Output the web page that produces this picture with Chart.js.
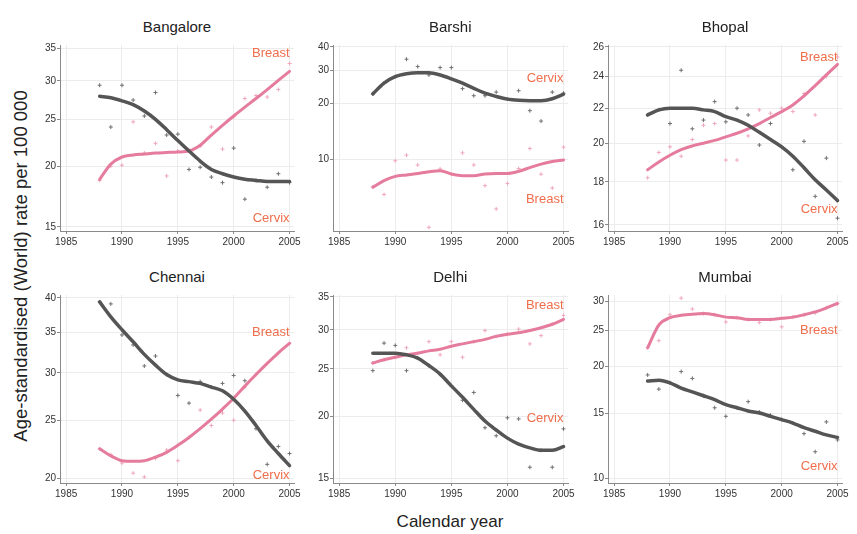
<!DOCTYPE html>
<html><head><meta charset="utf-8">
<script src="https://cdn.jsdelivr.net/npm/chart.js@4.4.1/dist/chart.umd.min.js"></script>
<style>
html,body{margin:0;padding:0;background:#fff;}
#wrap{position:relative;width:857px;height:534px;overflow:hidden;font-family:'Liberation Sans',Arial,sans-serif;}
#wrap canvas{position:absolute;}
.ttl{position:absolute;font-family:'Liberation Sans Narrow','Liberation Sans',Arial,sans-serif;font-size:15px;color:#222;transform:translate(-50%,-50%);white-space:nowrap;}
.axt{position:absolute;font-size:17px;color:#222;white-space:nowrap;transform:translate(-50%,-50%);}
</style></head><body><div id="wrap">
<div class="axt" style="left:450px;top:522px;">Calendar year</div>
<div class="axt" style="left:21px;top:266px;font-size:18.5px;transform:translate(-50%,-50%) rotate(-90deg);">Age-standardised (World) rate per 100 000</div>
</div>
<script>
// ---- data ----
const years = [1988,1989,1990,1991,1992,1993,1994,1995,1996,1997,1998,1999,2000,2001,2002,2003,2004,2005];
const xTicks = [1985,1990,1995,2000,2005];

const bangaloreCervix    = [29.4,24.1,29.4,27.4,25.4,28.4,23.2,23.3,19.7,19.9,19.0,18.5,21.8,17.1,18.7,18.1,19.3,18.5];
const bangaloreBreast    = [18.7,20.0,20.1,24.7,21.3,22.3,19.1,21.5,21.6,22.0,24.1,21.7,25.3,27.6,28.0,27.8,28.8,32.6];
const bangaloreCervixFit = [27.9,27.7,27.3,26.8,26.0,25.0,23.8,22.6,21.5,20.5,19.7,19.3,19.0,18.8,18.7,18.6,18.6,18.6];
const bangaloreBreastFit = [18.8,20.2,20.9,21.1,21.2,21.3,21.35,21.4,21.5,22.1,23.2,24.3,25.4,26.5,27.6,28.8,30.1,31.4];
const bangaloreTicks     = [15,20,25,30,35];
const bangaloreLabelAt   = [34.2,15.6]; // Breast, Cervix

const barshiCervix    = [22.4,25.6,27.7,34.4,31.4,28.3,31.0,31.0,23.9,21.9,21.9,22.9,21.0,23.3,18.2,16.0,22.9,22.6];
const barshiBreast    = [7.1,6.46,9.8,10.5,9.3,4.3,8.85,8.3,10.8,9.3,7.2,5.4,7.4,8.9,11.4,8.3,7.0,11.6];
const barshiCervixFit = [22.4,25.6,27.7,28.7,29.1,29.1,28.3,27.0,25.6,24.0,22.6,21.7,21.0,20.7,20.6,20.6,21.1,22.3];
const barshiBreastFit = [7.06,7.67,8.08,8.22,8.38,8.56,8.67,8.32,8.15,8.15,8.32,8.38,8.38,8.6,9.0,9.4,9.7,9.9];
const barshiTicks     = [10,20,30,40];
const barshiLabelAt   = [6.07,27.1];

const bhopalCervix    = [21.6,21.9,21.1,24.4,20.8,21.3,22.4,21.2,22.0,21.6,19.9,21.1,19.8,18.6,20.1,17.3,19.2,16.3];
const bhopalBreast    = [18.2,19.5,19.8,19.3,20.2,21.0,21.1,19.1,19.1,20.4,21.9,21.7,22.0,21.8,22.9,21.6,24.0,25.3];
const bhopalCervixFit = [21.6,21.9,22.0,22.0,22.0,21.9,21.8,21.5,21.3,21.0,20.6,20.2,19.8,19.3,18.7,18.1,17.6,17.1];
const bhopalBreastFit = [18.6,19.0,19.35,19.65,19.85,20.0,20.15,20.35,20.55,20.8,21.1,21.45,21.8,22.2,22.75,23.4,24.1,24.8];
const bhopalTicks     = [16,18,20,22,24,26];
const bhopalLabelAt   = [25.3,16.7];

const chennaiCervix    = [39.4,39.1,34.7,33.4,30.8,32.0,29.8,27.5,26.7,29.0,28.4,28.8,29.7,29.1,24.2,21.1,22.6,22.0];
const chennaiBreast    = [22.4,21.9,21.2,20.4,20.1,21.6,22.3,21.4,23.4,26.0,24.5,25.7,25.0,28.4,29.8,31.1,32.4,33.6];
const chennaiCervixFit = [39.4,37.2,35.4,33.8,32.2,30.9,29.8,29.2,29.0,28.8,28.4,28.0,27.1,25.9,24.5,23.1,22.0,21.0];
const chennaiBreastFit = [22.4,21.8,21.4,21.35,21.4,21.7,22.1,22.7,23.4,24.2,25.1,26.1,27.2,28.5,29.8,31.1,32.4,33.6];
const chennaiTicks     = [20,25,30,35,40];
const chennaiLabelAt   = [35.1,20.2];

const delhiCervix    = [24.8,28.2,27.9,24.8,26.3,25.4,24.4,23.1,21.6,22.4,19.0,18.3,19.9,19.8,15.8,17.1,15.8,18.9];
const delhiBreast    = [25.7,26.1,26.4,27.6,26.9,28.4,26.7,28.4,26.4,28.4,29.9,29.1,29.4,30.1,28.1,29.2,30.8,32.1];
const delhiCervixFit = [26.9,26.9,26.9,26.7,26.3,25.4,24.4,23.1,21.9,20.7,19.6,18.8,18.1,17.6,17.3,17.1,17.1,17.4];
const delhiBreastFit = [25.7,26.1,26.4,26.7,26.9,27.2,27.4,27.8,28.1,28.4,28.7,29.1,29.4,29.6,29.9,30.3,30.8,31.5];
const delhiTicks     = [15,20,25,30,35];
const delhiLabelAt   = [33.6,19.8];

const mumbaiCervix    = [19.0,17.4,18.1,19.4,18.6,16.7,15.5,14.7,15.5,16.1,15.1,14.8,14.4,14.1,13.2,11.8,14.2,12.7];
const mumbaiBreast    = [22.5,23.5,27.6,30.6,28.6,27.8,27.6,26.4,27.1,26.8,26.3,26.8,25.6,27.2,27.6,27.9,28.8,29.6];
const mumbaiCervixFit = [18.3,18.4,18.1,17.5,17.1,16.7,16.3,15.8,15.5,15.2,15.0,14.7,14.4,14.1,13.7,13.4,13.1,12.9];
const mumbaiBreastFit = [22.5,25.9,27.1,27.5,27.7,27.8,27.6,27.2,27.1,26.8,26.8,26.8,27.0,27.2,27.6,28.1,28.8,29.6];
const mumbaiTicks     = [10,15,20,25,30];
const mumbaiLabelAt   = [25.1,10.8];

// ---- layout / styles ----
const C_CERVIX = '#555555', C_CERVIX_PT = '#707070';
const C_BREAST = '#e57c9d', C_BREAST_PT = '#efa8bd';
const C_LABEL = '#ef6e4c';
const TICK_FONT = {family:"'Liberation Sans Narrow','Liberation Sans',Arial,sans-serif", size:10};

const panels = [
  {title:'Bangalore', c:bangaloreCervix, b:bangaloreBreast, cf:bangaloreCervixFit, bf:bangaloreBreastFit, ticks:bangaloreTicks, lab:bangaloreLabelAt, L:60,  T:43,  R:294,   B:231, ymin:14.7, ymax:35.6},
  {title:'Barshi',    c:barshiCervix,    b:barshiBreast,    cf:barshiCervixFit,    bf:barshiBreastFit,    ticks:barshiTicks,    lab:barshiLabelAt,    L:333, T:43,  R:567.5, B:231, ymin:4.11, ymax:41.0},
  {title:'Bhopal',    c:bhopalCervix,    b:bhopalBreast,    cf:bhopalCervixFit,    bf:bhopalBreastFit,    ticks:bhopalTicks,    lab:bhopalLabelAt,    L:608, T:43,  R:842,   B:231, ymin:15.74, ymax:26.14},
  {title:'Chennai',   c:chennaiCervix,   b:chennaiBreast,   cf:chennaiCervixFit,   bf:chennaiBreastFit,   ticks:chennaiTicks,   lab:chennaiLabelAt,   L:60,  T:293, R:294,   B:483, ymin:19.64, ymax:40.46},
  {title:'Delhi',     c:delhiCervix,     b:delhiBreast,     cf:delhiCervixFit,     bf:delhiBreastFit,     ticks:delhiTicks,     lab:delhiLabelAt,     L:333, T:293, R:567.5, B:483, ymin:14.68, ymax:35.3},
  {title:'Mumbai',    c:mumbaiCervix,    b:mumbaiBreast,    cf:mumbaiCervixFit,    bf:mumbaiBreastFit,    ticks:mumbaiTicks,    lab:mumbaiLabelAt,    L:608, T:293, R:842,   B:483, ymin:9.72, ymax:31.2}
];

const YW = 30, XH = 20, PT = 5, PR = 10;

const labelPlugin = {
  id: 'siteLabels',
  afterDatasetsDraw(chart, args, opts) {
    const {ctx, scales} = chart;
    ctx.save();
    ctx.font = '13px "Liberation Sans", Arial, sans-serif';
    ctx.fillStyle = C_LABEL;
    ctx.textAlign = 'right';
    ctx.textBaseline = 'middle';
    ctx.fillText('Breast', scales.x.getPixelForValue(2005), scales.y.getPixelForValue(opts.at[0]));
    ctx.fillText('Cervix', scales.x.getPixelForValue(2005), scales.y.getPixelForValue(opts.at[1]));
    ctx.restore();
  }
};

function toXY(arr) { return arr.map((v, i) => ({x: years[i], y: v})).filter(p => p.y != null); }

const wrap = document.getElementById('wrap');
panels.forEach(p => {
  const cv = document.createElement('canvas');
  const w = Math.round(p.R - p.L + YW + PR), h = Math.round(p.B - p.T + PT + XH);
  cv.width = w; cv.height = h;
  cv.style.left = (p.L - YW) + 'px'; cv.style.top = (p.T - PT) + 'px';
  cv.style.width = w + 'px'; cv.style.height = h + 'px';
  wrap.appendChild(cv);

  const t = document.createElement('div');
  t.className = 'ttl'; t.textContent = p.title;
  t.style.left = ((p.L + p.R) / 2) + 'px'; t.style.top = (p.T - 17) + 'px';
  wrap.appendChild(t);

  const gridCfg = {color:'#ececec', lineWidth:1, tickColor:'#8a8a8a', tickLength:3, drawTicks:true};
  new Chart(cv, {
    type: 'line',
    data: {datasets: [
      {label:'Cervix fit', data: toXY(p.cf), borderColor:C_CERVIX, borderWidth:3.5, pointRadius:0, cubicInterpolationMode:'monotone', borderCapStyle:'round', order:0},
      {label:'Breast fit', data: toXY(p.bf), borderColor:C_BREAST, borderWidth:3, pointRadius:0, cubicInterpolationMode:'monotone', borderCapStyle:'round', order:1},
      {label:'Cervix', data: toXY(p.c), showLine:false, pointStyle:'cross', pointRadius:2, borderColor:C_CERVIX_PT, pointBorderWidth:1, order:2},
      {label:'Breast', data: toXY(p.b), showLine:false, pointStyle:'cross', pointRadius:2, borderColor:C_BREAST_PT, pointBorderWidth:1, order:3}
    ]},
    options: {
      responsive:false, animation:false, devicePixelRatio:1,
      layout: {padding:{top:PT, right:PR, left:0, bottom:0}, autoPadding:false},
      plugins: {legend:{display:false}, tooltip:{enabled:false}, siteLabels:{at:p.lab}},
      scales: {
        x: {type:'linear', min:1984.45, max:2005.4,
            afterBuildTicks: s => { s.ticks = xTicks.map(v => ({value:v})); },
            afterFit: s => { s.height = XH; },
            ticks: {autoSkip:false, maxRotation:0, font:TICK_FONT, color:'#333', padding:2, callback: v => String(v)},
            grid: gridCfg, border:{color:'#8a8a8a', width:1}},
        y: {type:'logarithmic', min:p.ymin, max:p.ymax,
            afterBuildTicks: s => { s.ticks = p.ticks.map(v => ({value:v})); },
            afterFit: s => { s.width = YW; },
            ticks: {autoSkip:false, font:TICK_FONT, color:'#333', padding:1, callback: v => String(v)},
            grid: gridCfg, border:{color:'#8a8a8a', width:1}}
      }
    },
    plugins: [labelPlugin]
  });
});
</script></body></html>
